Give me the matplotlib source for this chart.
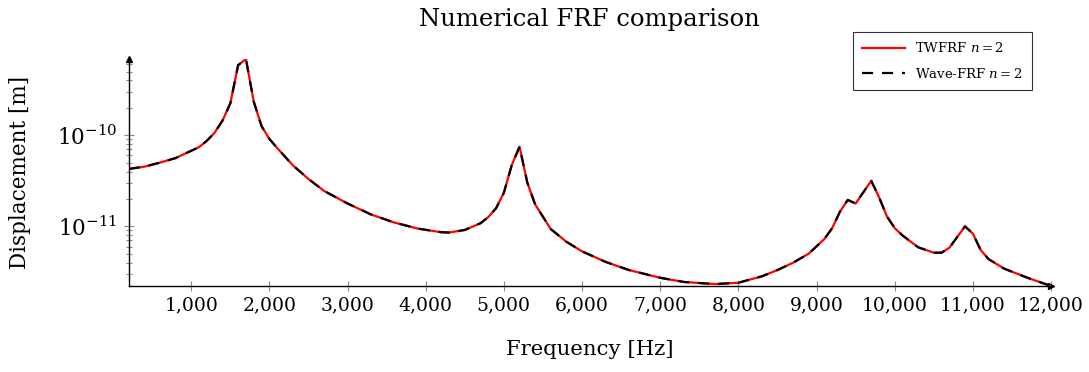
import numpy as np
import matplotlib
matplotlib.use("Agg")
import matplotlib.pyplot as plt
import matplotlib.ticker as mticker

plt.rcParams['font.family'] = ['DejaVu Serif']
plt.rcParams['mathtext.fontset'] = 'dejavuserif'

# frequency [Hz] and displacement [m]
freq = [200, 400, 600, 800, 1000, 1100, 1200, 1300, 1400, 1500, 1600, 1700, 1800, 1900,
        2000, 2100, 2300, 2500, 2700, 3000, 3300, 3600, 3900, 4200, 4300, 4500, 4700,
        4800, 4900, 5000, 5100, 5200, 5300, 5400, 5600, 5800, 6000, 6300, 6600, 7000,
        7300, 7700, 8000, 8300, 8500, 8700, 8900, 9100, 9200, 9300, 9400, 9500, 9700,
        9800, 9900, 10000, 10100, 10300, 10500, 10600, 10700, 10900, 11000, 11100,
        11200, 11400, 11700, 12000]
twfrf = [4.27e-11, 4.52e-11, 5.01e-11, 5.62e-11, 6.76e-11, 7.41e-11, 8.71e-11, 1.07e-10,
         1.45e-10, 2.24e-10, 5.89e-10, 6.89e-10, 2.34e-10, 1.26e-10, 9.12e-11, 7.24e-11,
         4.68e-11, 3.31e-11, 2.45e-11, 1.78e-11, 1.35e-11, 1.10e-11, 9.44e-12, 8.61e-12,
         8.55e-12, 9.12e-12, 1.08e-11, 1.26e-11, 1.58e-11, 2.34e-11, 4.68e-11, 7.50e-11,
         3.02e-11, 1.74e-11, 9.33e-12, 6.76e-12, 5.31e-12, 4.07e-12, 3.31e-12, 2.72e-12,
         2.45e-12, 2.32e-12, 2.40e-12, 2.82e-12, 3.31e-12, 3.98e-12, 5.01e-12, 7.24e-12,
         9.55e-12, 1.45e-11, 1.95e-11, 1.78e-11, 3.16e-11, 2.09e-11, 1.29e-11, 9.55e-12,
         7.94e-12, 5.89e-12, 5.13e-12, 5.13e-12, 5.82e-12, 1.00e-11, 8.32e-12, 5.50e-12,
         4.37e-12, 3.43e-12, 2.72e-12, 2.21e-12]
wave_frf = list(twfrf)  # both methods coincide

xticks = [1000, 2000, 3000, 4000, 5000, 6000, 7000, 8000, 9000, 10000, 11000, 12000]
yticks = [1e-11, 1e-10]
yminor = [3e-12, 4e-12, 5e-12, 6e-12, 7e-12, 8e-12, 9e-12,
          2e-11, 3e-11, 4e-11, 5e-11, 6e-11, 7e-11, 8e-11, 9e-11,
          2e-10, 3e-10, 4e-10, 5e-10, 6e-10]

fig = plt.figure(figsize=(10.89, 3.72), dpi=100)
ax = fig.add_axes([128.7/1089, 1-286/372, (1051-128.7)/1089, (286-59)/372])

ax.plot(freq, twfrf, color='red', lw=1.6, label='TWFRF $n = 2$', zorder=3)
ax.plot(freq, wave_frf, color='black', lw=1.6, ls=(0, (5, 4)), label='Wave-FRF $n = 2$', zorder=4)

ax.set_yscale('log')
ax.set_xlim(200, 12000)
ax.set_ylim(min(twfrf), max(twfrf))
ax.set_xticks(xticks)
ax.xaxis.set_major_formatter(mticker.FuncFormatter(lambda v, p: '{:,.0f}'.format(v)))
ax.yaxis.set_major_locator(mticker.FixedLocator(yticks))
ax.yaxis.set_major_formatter(mticker.FixedFormatter([r'$10^{-11}$', r'$10^{-10}$']))
ax.yaxis.set_minor_locator(mticker.FixedLocator(yminor))
ax.yaxis.set_minor_formatter(mticker.NullFormatter())

for s in ['top', 'right']:
    ax.spines[s].set_visible(False)
for s in ['left', 'bottom']:
    ax.spines[s].set_linewidth(1.0)
ax.tick_params(which='major', direction='inout', length=7, width=0.8, color='#888888')
ax.tick_params(axis='x', which='major', labelsize=13.5, pad=4)
ax.tick_params(axis='y', which='major', labelsize=15.5, pad=5)
ax.tick_params(axis='y', which='minor', direction='inout', length=5, width=0.8, color='#888888')
ax.tick_params(axis='x', which='minor', bottom=False)
ax.plot(1, 0, '>k', ms=5, transform=ax.transAxes, clip_on=False)
ax.plot(0, 1, '^k', ms=5, transform=ax.transAxes, clip_on=False)

ax.set_xlabel('Frequency [Hz]', fontsize=15.3)
ax.set_ylabel('Displacement [m]', fontsize=15.5)
ax.xaxis.set_label_coords(0.5, (286-340)/227)
ax.yaxis.set_label_coords((31-128.7)/922, 0.5)
ax.set_title('Numerical FRF comparison', fontsize=17.5, pad=24)

leg = ax.legend(loc='upper right', bbox_to_anchor=(1032/1089, 1-32/372),
                bbox_transform=fig.transFigure, borderaxespad=0, fontsize=9.5,
                frameon=True, fancybox=False, edgecolor='black', handlelength=3.2,
                borderpad=0.7, labelspacing=0.9)
leg.get_frame().set_linewidth(0.8)

fig.savefig('out.png', dpi=100)
